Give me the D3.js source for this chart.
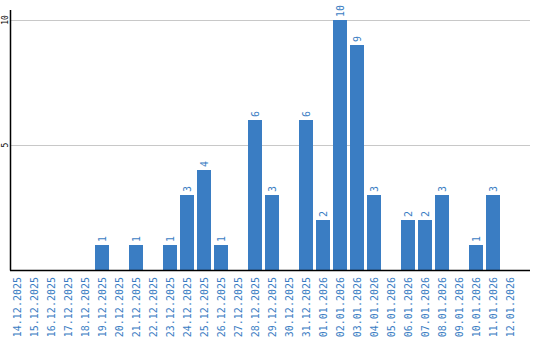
<!DOCTYPE html>
<html><head><meta charset="utf-8">
<script src="https://cdn.jsdelivr.net/npm/d3@7"></script>
<style>body{margin:0;background:#fff}svg{display:block}</style>
</head><body>
<script>
const dates = ["14.12.2025","15.12.2025","16.12.2025","17.12.2025","18.12.2025","19.12.2025","20.12.2025","21.12.2025","22.12.2025","23.12.2025","24.12.2025","25.12.2025","26.12.2025","27.12.2025","28.12.2025","29.12.2025","30.12.2025","31.12.2025","01.01.2026","02.01.2026","03.01.2026","04.01.2026","05.01.2026","06.01.2026","07.01.2026","08.01.2026","09.01.2026","10.01.2026","11.01.2026","12.01.2026"];
const values = [0,0,0,0,0,1,0,1,0,1,3,4,1,0,6,3,0,6,2,10,9,3,0,2,2,3,0,1,3,0];
const yTicks = [5,10];

const W=540,H=340;
const svg=d3.select("body").append("svg").attr("width",W).attr("height",H);
const x0=10, step=17;
const x=d3.scaleBand().domain(dates).range([x0,x0+step*dates.length-3]).paddingInner(3/17).paddingOuter(0).align(0);
const y=d3.scaleLinear().domain([0,10.4]).range([270,10]);
const blue="#3a7dc3";

svg.append("g").selectAll("line").data(yTicks).join("line")
  .attr("x1",10).attr("x2",530).attr("y1",d=>y(d)).attr("y2",d=>y(d))
  .attr("stroke","#c8c8c8").attr("stroke-width",1).attr("shape-rendering","crispEdges");

svg.append("g").selectAll("rect").data(values).join("rect")
  .attr("x",(d,i)=>x(dates[i])).attr("width",x.bandwidth())
  .attr("y",d=>y(d)).attr("height",d=>270-y(d)).attr("fill",blue);

svg.append("g").selectAll("text").data(values.map((v,i)=>({v,i})).filter(d=>d.v>0)).join("text")
  .attr("transform",d=>`translate(${x(dates[d.i])+x.bandwidth()/2+4},${y(d.v)-3}) rotate(-90)`)
  .attr("font-family","DejaVu Sans Mono").attr("font-size",10).attr("fill",blue)
  .text(d=>d.v);

svg.append("g").selectAll("text").data(dates).join("text")
  .attr("transform",d=>`translate(${x(d)+x.bandwidth()/2+4},277) rotate(-90)`)
  .attr("text-anchor","end")
  .attr("font-family","DejaVu Sans Mono").attr("font-size",10).attr("fill",blue)
  .text(d=>d);

svg.append("g").selectAll("text").data(yTicks).join("text")
  .attr("transform",d=>`translate(8,${y(d)}) rotate(-90)`)
  .attr("text-anchor","middle")
  .attr("font-family","DejaVu Sans Mono").attr("font-size",8).attr("fill","#000")
  .text(d=>d);

svg.append("line").attr("x1",10.5).attr("x2",10.5).attr("y1",10).attr("y2",270.5).attr("stroke","#000").attr("stroke-width",1.5);
svg.append("line").attr("x1",10).attr("x2",530).attr("y1",270.5).attr("y2",270.5).attr("stroke","#000").attr("stroke-width",1.5);
</script>
</body></html>
